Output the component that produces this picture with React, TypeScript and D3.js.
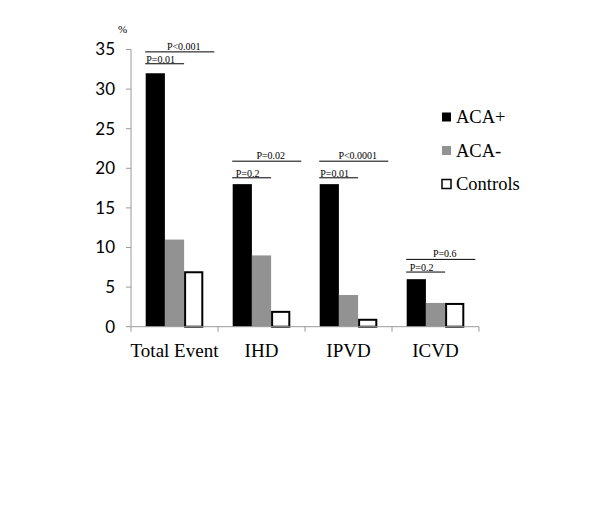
import React from "react";
import * as d3 from "d3";

// categories and series (%)
const categories = ["Total Event", "IHD", "IPVD", "ICVD"];
const groups = ["ACA+", "ACA-", "Controls"];
const acaPos = [32, 18, 18, 6];
const acaNeg = [11, 9, 4, 3];
const controls = [7, 2, 1, 3];
const yTicks = [0, 5, 10, 15, 20, 25, 30, 35];

// p-value annotations: vs ACA- (lower line) and vs Controls (upper line)
const pVsNeg = ["P=0.01", "P=0.2", "P=0.01", "P=0.2"];
const pVsCtrl = ["P<0.001", "P=0.02", "P<0.0001", "P=0.6"];
const levelVsNeg = [33.2, 18.8, 18.8, 6.9];
const levelVsCtrl = [34.7, 20.9, 20.9, 8.5];

const fills = ["#000000", "#929292", "#ffffff"];
const serif = "'Liberation Serif', 'DejaVu Serif', serif";

const App: React.FC = () => {
  const width = 600;
  const height = 524;

  const y = d3.scaleLinear().domain([0, 35]).range([326.7, 49.5]);
  const x = d3.scaleBand<string>().domain(categories).range([131, 479]).padding(0);
  const xSub = d3
    .scaleBand<string>()
    .domain(groups)
    .range([0, x.bandwidth()])
    .paddingInner(0)
    .paddingOuter(0.765);
  const bw = xSub.bandwidth();

  const series = [acaPos, acaNeg, controls];
  const y0 = y(0);

  return (
    <svg
      width={width}
      height={height}
      style={{ position: "absolute", left: 0, top: 0, background: "#fff" }}
    >
      {/* bars */}
      {categories.map((c, i) => (
        <g key={c}>
          {series.map((s, j) => {
            const bx = (x(c) as number) + (xSub(groups[j]) as number);
            const by = y(s[i]);
            return j === 2 ? (
              <rect
                key={j}
                x={bx + 1}
                y={by + 1}
                width={bw - 2}
                height={y0 - by - 1}
                fill={fills[j]}
                stroke="#000"
                strokeWidth={2}
              />
            ) : (
              <rect key={j} x={bx} y={by} width={bw} height={y0 - by} fill={fills[j]} />
            );
          })}
        </g>
      ))}

      {/* y axis */}
      <line x1={131} x2={131} y1={y(35)} y2={y0} stroke="#9a9a9a" strokeWidth={1} />
      {yTicks.map((t) => (
        <g key={t}>
          <line x1={126} x2={131} y1={y(t)} y2={y(t)} stroke="#9a9a9a" />
          <text
            x={115}
            y={y(t)}
            dy="0.35em"
            textAnchor="end"
            fontFamily="Lato, 'Open Sans', sans-serif"
            fontSize={17}
            fill="#000"
          >
            {t}
          </text>
        </g>
      ))}
      <text x={118} y={33} fontFamily={serif} fontSize={11} fill="#000">
        %
      </text>

      {/* x axis */}
      <line x1={131} x2={479} y1={y0} y2={y0} stroke="#9a9a9a" strokeWidth={1} />
      {[...categories.map((c) => x(c) as number), 479].map((t, i) => (
        <line key={i} x1={t} x2={t} y1={y0} y2={y0 + 5} stroke="#9a9a9a" />
      ))}
      {categories.map((c) => (
        <text
          key={c}
          x={(x(c) as number) + x.bandwidth() / 2}
          y={357}
          textAnchor="middle"
          fontFamily={serif}
          fontSize={19}
          fill="#000"
        >
          {c}
        </text>
      ))}

      {/* p-value annotations */}
      {categories.map((c, i) => {
        const start = (x(c) as number) + (xSub("ACA+") as number) - 0.5;
        const endNeg = (x(c) as number) + (xSub("ACA-") as number) + bw;
        const endCtrl = (x(c) as number) + (xSub("Controls") as number) + bw + 11;
        const yNeg = y(levelVsNeg[i]);
        const yCtrl = y(levelVsCtrl[i]);
        return (
          <g key={c} fontFamily={serif} fontSize={10} fill="#000">
            <line x1={start} x2={endNeg} y1={yNeg} y2={yNeg} stroke="#000" strokeWidth={1} />
            <text x={(start + endNeg) / 2 - 4} y={yNeg - 1} textAnchor="middle">
              {pVsNeg[i]}
            </text>
            <line x1={start} x2={endCtrl} y1={yCtrl} y2={yCtrl} stroke="#000" strokeWidth={1} />
            <text x={(start + endCtrl) / 2 + 4} y={yCtrl - 2} textAnchor="middle">
              {pVsCtrl[i]}
            </text>
          </g>
        );
      })}

      {/* legend */}
      {groups.map((g, j) => {
        const cy = 117 + j * 33.5;
        return (
          <g key={g}>
            <rect
              x={442}
              y={cy - 4.5}
              width={9}
              height={9}
              fill={fills[j]}
              stroke={j === 2 ? "#000" : "none"}
              strokeWidth={1.5}
            />
            <text
              x={456}
              y={cy}
              dy="0.35em"
              fontFamily={serif}
              fontSize={18.5}
              fill="#000"
            >
              {g}
            </text>
          </g>
        );
      })}
    </svg>
  );
};

export default App;
